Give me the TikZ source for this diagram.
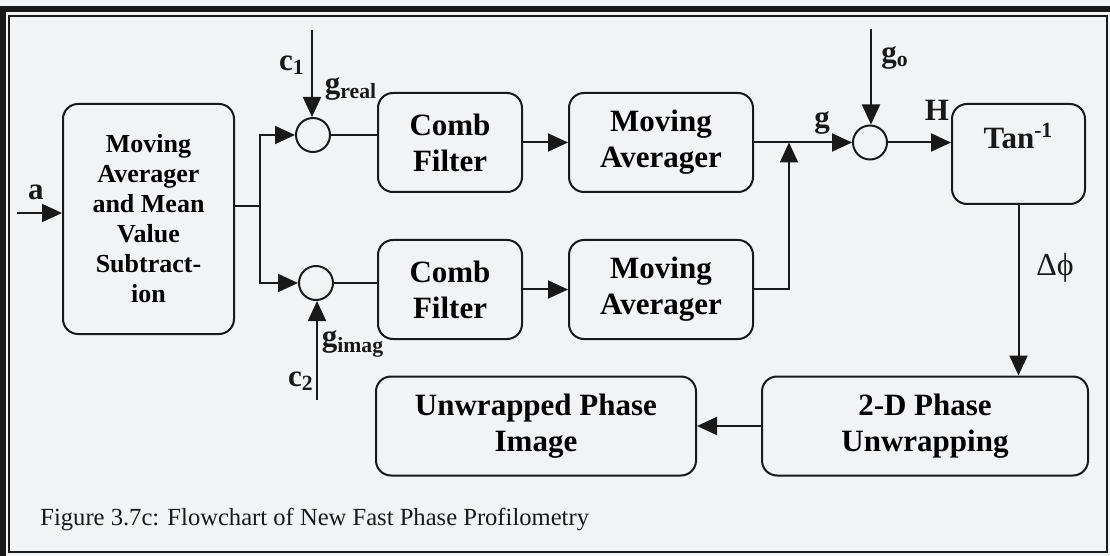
\documentclass[tikz,border=0pt]{standalone}
\usepackage{fontspec}
\setmainfont{Liberation Serif}
\usetikzlibrary{positioning,arrows.meta}
\definecolor{bgcol}{RGB}{241,243,245}
\definecolor{linecol}{RGB}{25,25,25}
\tikzstyle{pbox}=[rectangle, rounded corners=7.5pt, draw=linecol, line width=1pt,
                  fill=bgcol, font=\bfseries\fontsize{15.5}{18}\selectfont,
                  align=center, minimum height=49.5pt, inner sep=2pt]
\tikzstyle{sumc}=[circle, draw=linecol, line width=1pt, fill=bgcol,
                  minimum size=17pt, inner sep=0pt]
\tikzstyle{pline}=[-, line width=1pt, draw=linecol]
\tikzstyle{parr}=[-{Triangle[length=10pt,width=9pt]}, line width=1pt, draw=linecol]
\tikzstyle{plab}=[font=\bfseries\fontsize{15.5}{18}\selectfont, inner sep=0pt, text=linecol]
\begin{document}
\begin{tikzpicture}[x=0.5pt,y=-0.5pt]
\useasboundingbox (0,0) rectangle (1110,556);
% page frame
\fill[bgcol] (0,0) rectangle (1110,556);
\draw[line width=3pt,linecol] (3,556) -- (3,9) -- (1110,9);
\draw[line width=0.7pt,linecol] (9,16) rectangle (1107,552);

\node (MAVG) [pbox, minimum width=85.5pt, minimum height=115pt,
  font=\bfseries\fontsize{13}{15}\selectfont] at (148.5,219)
  {Moving\\Averager\\and Mean\\Value\\Subtract-\\ion};
\coordinate (AIN) at (17,213);
 \draw[parr] (AIN) -- (AIN -| MAVG.west);
\node [plab] at (36,192) {a};

\node (SUM1) [sumc] at (313,135) {};
\node (SUM2) [sumc] at (316,283) {};
\coordinate (SPLIT) at (260,206);
 \draw[pline] (MAVG.east |- SPLIT) -- (SPLIT);
 \draw[parr] (SPLIT) |- (SUM1.west);
 \draw[parr] (SPLIT) |- (SUM2.west);

\coordinate (C1IN) at (312,30);
 \draw[parr] (C1IN) -- (C1IN |- SUM1.north);
\node [plab] at (292,65) {c\textsubscript{1}};
\node [plab] at (351,89) {g\textsubscript{real}};
\coordinate (C2IN) at (317,400);
 \draw[parr] (C2IN) -- (C2IN |- SUM2.south);
\node [plab] at (353,344) {g\textsubscript{imag}};
\node [plab] at (301,381) {c\textsubscript{2}};

\node (COMB1) [pbox, minimum width=72pt] at (450,142.5) {Comb\\Filter};
\node (COMB2) [pbox, minimum width=72pt, below=23pt of COMB1] {Comb\\Filter};
 \draw[pline] (SUM1.east) -- (SUM1.east -| COMB1.west);
 \draw[pline] (SUM2.east) -- (SUM2.east -| COMB2.west);
\node (AVG1) [pbox, minimum width=92pt, right=22.5pt of COMB1] {Moving\\Averager};
\node (AVG2) [pbox, minimum width=92pt, right=22.5pt of COMB2] {Moving\\Averager};
 \draw[parr] (COMB1.east) -- (AVG1.west);
 \draw[parr] (COMB2.east) -- (AVG2.west);

\node (SUM3) [sumc] at (870,142.5) {};
\coordinate (MERGE) at (789,142.5);
 \draw[parr] (AVG1.east) -- (AVG1.east -| SUM3.west);
 \draw[parr] (AVG2.east) -| (MERGE);
\node [plab] at (822,123) {g};
\coordinate (GOIN) at (871,29);
 \draw[parr] (GOIN) -- (GOIN |- SUM3.north);
\node [plab] at (895,58) {g\textsubscript{o}};

\node (TAN) [pbox, minimum width=66.5pt, minimum height=50pt,
  label={[plab, anchor=center, yshift=-16.5pt]north:{Tan\textsuperscript{-1}}}]
  at (1018.5,154) {};
 \draw[parr] (SUM3.east) -- (SUM3.east -| TAN.west);
\node [plab] at (937,110) {H};

\node (UNWRAP) [pbox, minimum width=163pt] at (925,426) {2-D Phase\\Unwrapping};
 \draw[parr] (TAN.south) -- (TAN.south |- UNWRAP.north);
\node [plab, font=\fontsize{16}{18}\selectfont] at (1055,268) {Δϕ};
\node (RESULT) [pbox, minimum width=160pt, left=32pt of UNWRAP] {Unwrapped Phase\\Image};
 \draw[parr] (UNWRAP.west) -- (RESULT.east);

\node (CAPTION) [anchor=base west, inner sep=0pt, text=linecol,
  font=\fontsize{12.3}{14}\selectfont] at (40,525)
  {Figure 3.7c: Flowchart of New Fast Phase Profilometry};
\end{tikzpicture}
\end{document}
